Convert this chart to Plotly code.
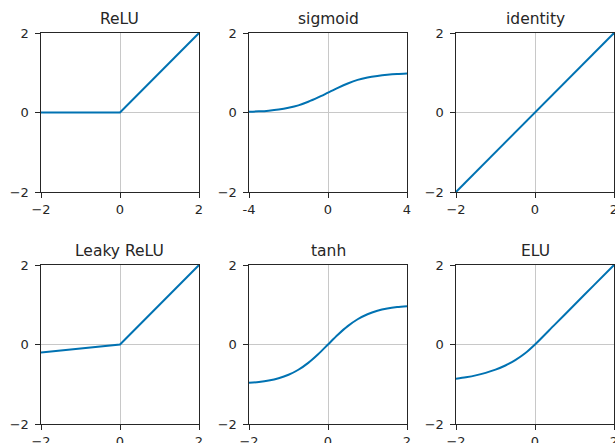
import plotly.graph_objects as go

# ---- data ----
titles = ["ReLU", "sigmoid", "identity", "Leaky ReLU", "tanh", "ELU"]

relu_x = [-2, 0, 2]
relu_y = [0, 0, 2]

sigmoid_x = [-4, -3.5, -3, -2.5, -2, -1.5, -1, -0.5, 0, 0.5, 1, 1.5, 2, 2.5, 3, 3.5, 4]
sigmoid_y = [0.018, 0.029, 0.047, 0.076, 0.12, 0.18, 0.27, 0.38, 0.5, 0.62, 0.73, 0.82, 0.88, 0.92, 0.95, 0.97, 0.982]

identity_x = [-2, 2]
identity_y = [-2, 2]

leaky_x = [-2, 0, 2]
leaky_y = [-0.2, 0, 2]

tanh_x = [-2, -1.75, -1.5, -1.25, -1, -0.75, -0.5, -0.25, 0, 0.25, 0.5, 0.75, 1, 1.25, 1.5, 1.75, 2]
tanh_y = [-0.964, -0.941, -0.905, -0.848, -0.762, -0.635, -0.462, -0.245, 0, 0.245, 0.462, 0.635, 0.762, 0.848, 0.905, 0.941, 0.964]

elu_x = [-2, -1.75, -1.5, -1.25, -1, -0.75, -0.5, -0.25, 0, 0.5, 1, 1.5, 2]
elu_y = [-0.865, -0.826, -0.777, -0.713, -0.632, -0.528, -0.393, -0.221, 0, 0.5, 1, 1.5, 2]

x_ranges = [[-2, 2], [-4, 4], [-2, 2], [-2, 2], [-2, 2], [-2, 2]]
x_tickvals = [[-2, 0, 2], [-4, 0, 4], [-2, 0, 2], [-2, 0, 2], [-2, 0, 2], [-2, 0, 2]]
x_ticktext = [["\u22122", "0", "2"], ["-4", "0", "4"], ["\u22122", "0", "2"],
              ["\u22122", "0", "2"], ["\u22122", "0", "2"], ["\u22122", "0", "2"]]
y_tickvals = [-2, 0, 2]
y_ticktext = ["\u22122", "0", "2"]

series = [(relu_x, relu_y), (sigmoid_x, sigmoid_y), (identity_x, identity_y),
          (leaky_x, leaky_y), (tanh_x, tanh_y), (elu_x, elu_y)]
shapes_ = ["linear", "spline", "linear", "linear", "spline", "spline"]

# ---- layout ----
W, H = 615, 443
col_px = [(41, 199), (249, 407), (456, 614)]
row_px = [(33, 192), (265, 424)]

LINE = "#0072B2"
DARK = "#262626"
GRID = "#c8c8c8"
FONT = "DejaVu Sans"

fig = go.Figure()
annotations = []
for i, (xs, ys) in enumerate(series):
    r, c = divmod(i, 3)
    n = "" if i == 0 else str(i + 1)
    xd = [col_px[c][0] / W, col_px[c][1] / W]
    yd = [1 - row_px[r][1] / H, 1 - row_px[r][0] / H]
    fig.add_trace(go.Scatter(x=xs, y=ys, mode="lines",
                             line=dict(color=LINE, width=2, shape=shapes_[i], smoothing=0.8),
                             xaxis="x" + n, yaxis="y" + n,
                             showlegend=False, hoverinfo="skip", cliponaxis=False))
    common = dict(showline=True, linecolor=DARK, linewidth=1.2, mirror=True,
                  ticks="outside", ticklen=4.5, tickwidth=1.2, tickcolor=DARK,
                  showgrid=True, gridcolor=GRID, gridwidth=1, zeroline=False,
                  automargin=False, ticklabeloverflow="allow",
                  tickfont=dict(family=FONT, size=13, color=DARK))
    fig.layout["xaxis" + n] = dict(domain=xd, anchor="y" + n, range=x_ranges[i],
                                   tickmode="array", tickvals=x_tickvals[i],
                                   ticktext=x_ticktext[i], ticklabelstandoff=1, **common)
    fig.layout["yaxis" + n] = dict(domain=yd, anchor="x" + n, range=[-2, 2],
                                   tickmode="array", tickvals=y_tickvals,
                                   ticktext=y_ticktext, ticklabelstandoff=4, **common)
    annotations.append(dict(text=titles[i], x=(xd[0] + xd[1]) / 2, y=yd[1],
                            xref="paper", yref="paper", xanchor="center",
                            yanchor="bottom", yshift=3, showarrow=False,
                            font=dict(family=FONT, size=15.5, color=DARK)))

fig.update_layout(width=W, height=H,
                  margin=dict(l=0, r=0, t=0, b=0, pad=0, autoexpand=False),
                  paper_bgcolor="white", plot_bgcolor="white",
                  annotations=annotations)

fig.write_html("out.html", config={"displayModeBar": False},
               post_script="document.body.style.margin='0';document.body.style.overflow='hidden';")
